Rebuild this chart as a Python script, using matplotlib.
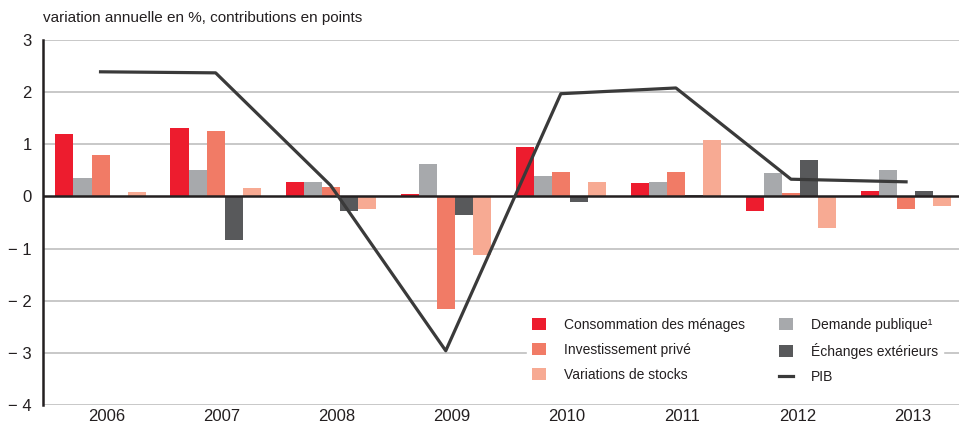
import matplotlib.pyplot as plt
import numpy as np

plt.rcParams['font.family'] = ['Liberation Sans', 'DejaVu Sans']

years = ["2006", "2007", "2008", "2009", "2010", "2011", "2012", "2013"]

consommation = [1.19, 1.31, 0.27, 0.04, 0.95, 0.25, -0.27, 0.10]
demande_pub = [0.35, 0.50, 0.27, 0.62, 0.40, 0.27, 0.44, 0.50]
investissement = [0.79, 1.25, 0.19, -2.15, 0.46, 0.46, 0.06, -0.25]
echanges = [0.00, -0.84, -0.28, -0.36, -0.10, 0.03, 0.69, 0.10]
stocks = [0.08, 0.17, -0.25, -1.13, 0.27, 1.08, -0.61, -0.19]
pib = [2.39, 2.37, 0.21, -2.96, 1.97, 2.08, 0.33, 0.28]

series = [consommation, demande_pub, investissement, echanges, stocks]
colors = ["#ED1C2E", "#A7A9AC", "#F17B66", "#58595B", "#F7AA93"]
labels = ["Consommation des ménages", "Demande publique¹", "Investissement privé",
          "Échanges extérieurs", "Variations de stocks"]

fig = plt.figure(figsize=(9.59, 4.28), dpi=100)
ax = fig.add_axes([43 / 959, 23 / 428, 1 - 43 / 959, 365 / 428])

x = np.arange(len(years))
w = 0.157
bars = []
for k in range(len(series)):
    b = ax.bar(x + (k - 2) * w, series[k], width=w, color=colors[k], label=labels[k], zorder=2)
    bars.append(b)

line, = ax.plot(x, pib, color="#3A3A3A", lw=2.3, label="PIB", zorder=4)

ax.set_ylim(-4, 3)
ax.set_xlim(-0.50, 7.46)
ax.set_yticks(range(-4, 4))
ax.set_yticklabels([("− %d" % -v) if v < 0 else str(v) for v in range(-4, 4)], fontsize=12, color="#231F20")
ax.set_xticks(x + 0.055)
ax.set_xticklabels(years, fontsize=12, color="#231F20")
ax.tick_params(length=0)
ax.tick_params(axis="y", pad=8)
ax.tick_params(axis="x", pad=3)

for v in range(-4, 4):
    if v != 0:
        ax.axhline(v, color="#C4C4C4", lw=1.3, zorder=1)
ax.axhline(0, color="#231F20", lw=1.8, zorder=3)

for s in ["top", "right", "bottom"]:
    ax.spines[s].set_visible(False)
ax.spines["left"].set_color("#231F20")
ax.spines["left"].set_linewidth(1.8)

fig.text(43 / 959, 1 - 18 / 428, "variation annuelle en %, contributions en points",
         fontsize=11, color="#231F20", va="center", ha="left")

handles = [bars[0], bars[2], bars[4], bars[1], bars[3], line]
leg = fig.legend(handles, [h.get_label() for h in handles], ncol=2,
                 loc="upper left", bbox_to_anchor=(520 / 959, 1 - 306 / 428),
                 bbox_transform=fig.transFigure, frameon=True, fontsize=10,
                 handlelength=1.0, handleheight=1.0, handletextpad=1.3,
                 columnspacing=2.45, labelspacing=0.8, borderpad=0.35)
leg.get_frame().set_facecolor("white")
leg.get_frame().set_edgecolor("white")
leg.get_frame().set_alpha(1)
leg.get_frame().set_boxstyle("square", pad=0)
leg.set_zorder(5)
for t in leg.get_texts():
    t.set_color("#231F20")

plt.savefig("out.png", dpi=100)
